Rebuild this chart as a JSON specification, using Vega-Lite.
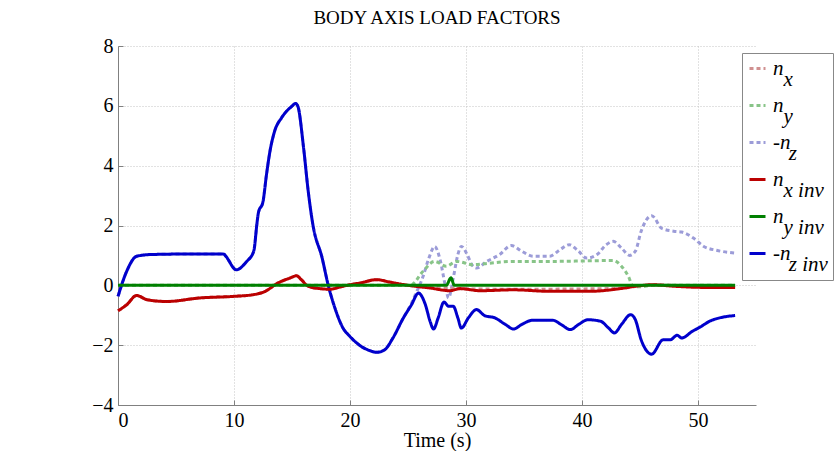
{
  "$schema": "https://vega.github.io/schema/vega-lite/v6.json",
  "width": 638,
  "height": 359,
  "autosize": "none",
  "padding": {"left": 118, "top": 46, "right": 79, "bottom": 46},
  "background": "white",
  "title": {"text": "BODY AXIS LOAD FACTORS", "font": "Liberation Serif", "fontSize": 19, "fontWeight": "normal", "color": "black", "anchor": "middle", "offset": 8},
  "datasets": {
    "d": [
      {"s":"-nz_inv","t":0,"v":-0.37},{"s":"-nz_inv","t":0.75,"v":0.47},{"s":"-nz_inv","t":1.6,"v":0.97},{"s":"-nz_inv","t":2.8,"v":1.03},{"s":"-nz_inv","t":7.1,"v":1.05},{"s":"-nz_inv","t":9.1,"v":1.05},{"s":"-nz_inv","t":9.3,"v":0.97},{"s":"-nz_inv","t":10.2,"v":0.52},{"s":"-nz_inv","t":11.1,"v":0.8},{"s":"-nz_inv","t":11.7,"v":1.14},{"s":"-nz_inv","t":12.0,"v":2.14},{"s":"-nz_inv","t":12.1,"v":2.42},{"s":"-nz_inv","t":12.5,"v":2.8},{"s":"-nz_inv","t":12.8,"v":3.7},{"s":"-nz_inv","t":13.1,"v":4.48},{"s":"-nz_inv","t":13.5,"v":5.15},{"s":"-nz_inv","t":14.1,"v":5.6},{"s":"-nz_inv","t":15.0,"v":5.99},{"s":"-nz_inv","t":15.3,"v":6.08},{"s":"-nz_inv","t":15.5,"v":5.99},{"s":"-nz_inv","t":16.0,"v":4.59},{"s":"-nz_inv","t":16.4,"v":3.14},{"s":"-nz_inv","t":16.8,"v":2.03},{"s":"-nz_inv","t":17.6,"v":0.91},{"s":"-nz_inv","t":18.1,"v":0.04},{"s":"-nz_inv","t":18.7,"v":-0.76},{"s":"-nz_inv","t":19.4,"v":-1.43},{"s":"-nz_inv","t":20.0,"v":-1.71},{"s":"-nz_inv","t":21.0,"v":-2.05},{"s":"-nz_inv","t":21.7,"v":-2.18},{"s":"-nz_inv","t":22.3,"v":-2.24},{"s":"-nz_inv","t":23.0,"v":-2.15},{"s":"-nz_inv","t":23.7,"v":-1.76},{"s":"-nz_inv","t":24.6,"v":-1.09},{"s":"-nz_inv","t":25.3,"v":-0.65},{"s":"-nz_inv","t":25.9,"v":-0.26},{"s":"-nz_inv","t":26.5,"v":-0.65},{"s":"-nz_inv","t":26.9,"v":-1.2},{"s":"-nz_inv","t":27.2,"v":-1.46},{"s":"-nz_inv","t":27.6,"v":-1.09},{"s":"-nz_inv","t":28.1,"v":-0.56},{"s":"-nz_inv","t":28.5,"v":-0.7},{"s":"-nz_inv","t":28.9,"v":-0.7},{"s":"-nz_inv","t":29.3,"v":-1.09},{"s":"-nz_inv","t":29.6,"v":-1.43},{"s":"-nz_inv","t":30.2,"v":-1.09},{"s":"-nz_inv","t":30.9,"v":-0.81},{"s":"-nz_inv","t":31.6,"v":-1.01},{"s":"-nz_inv","t":32.5,"v":-1.09},{"s":"-nz_inv","t":33.4,"v":-1.31},{"s":"-nz_inv","t":34.1,"v":-1.46},{"s":"-nz_inv","t":34.8,"v":-1.31},{"s":"-nz_inv","t":35.7,"v":-1.17},{"s":"-nz_inv","t":37.5,"v":-1.17},{"s":"-nz_inv","t":38.2,"v":-1.31},{"s":"-nz_inv","t":39.0,"v":-1.48},{"s":"-nz_inv","t":39.7,"v":-1.31},{"s":"-nz_inv","t":40.5,"v":-1.15},{"s":"-nz_inv","t":41.6,"v":-1.2},{"s":"-nz_inv","t":42.3,"v":-1.43},{"s":"-nz_inv","t":42.8,"v":-1.59},{"s":"-nz_inv","t":43.4,"v":-1.31},{"s":"-nz_inv","t":44.2,"v":-0.98},{"s":"-nz_inv","t":44.6,"v":-1.15},{"s":"-nz_inv","t":45.1,"v":-1.82},{"s":"-nz_inv","t":46.0,"v":-2.3},{"s":"-nz_inv","t":47.0,"v":-1.82},{"s":"-nz_inv","t":47.6,"v":-1.82},{"s":"-nz_inv","t":48.2,"v":-1.67},{"s":"-nz_inv","t":48.6,"v":-1.76},{"s":"-nz_inv","t":49.5,"v":-1.54},{"s":"-nz_inv","t":50.2,"v":-1.39},{"s":"-nz_inv","t":51.0,"v":-1.2},{"s":"-nz_inv","t":52.2,"v":-1.06},{"s":"-nz_inv","t":53.2,"v":-1.01},

      {"s":"-nz","t":0,"v":-0.37},{"s":"-nz","t":0.75,"v":0.47},{"s":"-nz","t":1.6,"v":0.97},{"s":"-nz","t":2.8,"v":1.03},{"s":"-nz","t":7.1,"v":1.05},{"s":"-nz","t":9.1,"v":1.05},{"s":"-nz","t":9.3,"v":0.97},{"s":"-nz","t":10.2,"v":0.52},{"s":"-nz","t":11.1,"v":0.8},{"s":"-nz","t":11.7,"v":1.14},{"s":"-nz","t":12.0,"v":2.14},{"s":"-nz","t":12.1,"v":2.42},{"s":"-nz","t":12.5,"v":2.8},{"s":"-nz","t":12.8,"v":3.7},{"s":"-nz","t":13.1,"v":4.48},{"s":"-nz","t":13.5,"v":5.15},{"s":"-nz","t":14.1,"v":5.6},{"s":"-nz","t":15.0,"v":5.99},{"s":"-nz","t":15.3,"v":6.08},{"s":"-nz","t":15.5,"v":5.99},{"s":"-nz","t":16.0,"v":4.59},{"s":"-nz","t":16.4,"v":3.14},{"s":"-nz","t":16.8,"v":2.03},{"s":"-nz","t":17.6,"v":0.91},{"s":"-nz","t":18.1,"v":0.04},{"s":"-nz","t":18.7,"v":-0.76},{"s":"-nz","t":19.4,"v":-1.43},{"s":"-nz","t":20.0,"v":-1.71},{"s":"-nz","t":21.0,"v":-2.05},{"s":"-nz","t":21.7,"v":-2.18},{"s":"-nz","t":22.3,"v":-2.24},{"s":"-nz","t":23.0,"v":-2.15},{"s":"-nz","t":23.7,"v":-1.76},{"s":"-nz","t":24.6,"v":-1.09},{"s":"-nz","t":25.3,"v":-0.6},{"s":"-nz","t":25.7,"v":-0.25},{"s":"-nz","t":26.0,"v":0.0},{"s":"-nz","t":26.3,"v":0.3},{"s":"-nz","t":26.8,"v":0.91},{"s":"-nz","t":27.3,"v":1.3},{"s":"-nz","t":27.8,"v":0.8},{"s":"-nz","t":28.2,"v":0.02},{"s":"-nz","t":28.5,"v":-0.42},{"s":"-nz","t":28.9,"v":0.24},{"s":"-nz","t":29.3,"v":1.03},{"s":"-nz","t":29.6,"v":1.3},{"s":"-nz","t":30.1,"v":1.03},{"s":"-nz","t":30.5,"v":0.69},{"s":"-nz","t":30.9,"v":0.58},{"s":"-nz","t":31.8,"v":0.8},{"s":"-nz","t":32.9,"v":1.03},{"s":"-nz","t":33.9,"v":1.33},{"s":"-nz","t":34.8,"v":1.14},{"s":"-nz","t":35.8,"v":0.97},{"s":"-nz","t":37.2,"v":0.97},{"s":"-nz","t":38.1,"v":1.19},{"s":"-nz","t":38.9,"v":1.36},{"s":"-nz","t":39.7,"v":1.14},{"s":"-nz","t":40.4,"v":0.91},{"s":"-nz","t":41.3,"v":1.03},{"s":"-nz","t":42.1,"v":1.36},{"s":"-nz","t":42.7,"v":1.47},{"s":"-nz","t":43.4,"v":1.25},{"s":"-nz","t":44.1,"v":1.0},{"s":"-nz","t":44.6,"v":1.14},{"s":"-nz","t":45.1,"v":1.81},{"s":"-nz","t":46.0,"v":2.33},{"s":"-nz","t":46.9,"v":1.9},{"s":"-nz","t":47.9,"v":1.81},{"s":"-nz","t":48.6,"v":1.78},{"s":"-nz","t":49.6,"v":1.58},{"s":"-nz","t":50.5,"v":1.3},{"s":"-nz","t":51.6,"v":1.17},{"s":"-nz","t":53.2,"v":1.08},

      {"s":"nx_inv","t":0,"v":-0.85},{"s":"nx_inv","t":0.75,"v":-0.65},{"s":"nx_inv","t":1.6,"v":-0.34},{"s":"nx_inv","t":2.5,"v":-0.48},{"s":"nx_inv","t":4.2,"v":-0.54},{"s":"nx_inv","t":7.1,"v":-0.42},{"s":"nx_inv","t":9.9,"v":-0.37},{"s":"nx_inv","t":11.7,"v":-0.31},{"s":"nx_inv","t":12.7,"v":-0.2},{"s":"nx_inv","t":13.7,"v":0.06},{"s":"nx_inv","t":14.8,"v":0.24},{"s":"nx_inv","t":15.4,"v":0.32},{"s":"nx_inv","t":15.8,"v":0.19},{"s":"nx_inv","t":16.4,"v":-0.03},{"s":"nx_inv","t":17.4,"v":-0.11},{"s":"nx_inv","t":18.3,"v":-0.13},{"s":"nx_inv","t":19.1,"v":-0.06},{"s":"nx_inv","t":20.0,"v":0.02},{"s":"nx_inv","t":20.9,"v":0.08},{"s":"nx_inv","t":22.3,"v":0.19},{"s":"nx_inv","t":23.4,"v":0.11},{"s":"nx_inv","t":25.2,"v":-0.01},{"s":"nx_inv","t":26.9,"v":-0.09},{"s":"nx_inv","t":28.6,"v":-0.18},{"s":"nx_inv","t":29.5,"v":-0.11},{"s":"nx_inv","t":31.2,"v":-0.18},{"s":"nx_inv","t":34.1,"v":-0.15},{"s":"nx_inv","t":37.2,"v":-0.2},{"s":"nx_inv","t":40.7,"v":-0.2},{"s":"nx_inv","t":43.3,"v":-0.11},{"s":"nx_inv","t":45.0,"v":-0.01},{"s":"nx_inv","t":46.1,"v":0.02},{"s":"nx_inv","t":47.9,"v":-0.03},{"s":"nx_inv","t":50.7,"v":-0.07},{"s":"nx_inv","t":53.2,"v":-0.07},

      {"s":"nx","t":0,"v":-0.85},{"s":"nx","t":0.75,"v":-0.65},{"s":"nx","t":1.6,"v":-0.34},{"s":"nx","t":2.5,"v":-0.48},{"s":"nx","t":4.2,"v":-0.54},{"s":"nx","t":7.1,"v":-0.42},{"s":"nx","t":9.9,"v":-0.37},{"s":"nx","t":11.7,"v":-0.31},{"s":"nx","t":12.7,"v":-0.2},{"s":"nx","t":13.7,"v":0.06},{"s":"nx","t":14.8,"v":0.24},{"s":"nx","t":15.4,"v":0.32},{"s":"nx","t":15.8,"v":0.19},{"s":"nx","t":16.4,"v":-0.03},{"s":"nx","t":17.4,"v":-0.11},{"s":"nx","t":18.3,"v":-0.13},{"s":"nx","t":19.1,"v":-0.06},{"s":"nx","t":20.0,"v":0.02},{"s":"nx","t":20.9,"v":0.08},{"s":"nx","t":22.3,"v":0.19},{"s":"nx","t":23.4,"v":0.11},{"s":"nx","t":25.2,"v":-0.01},{"s":"nx","t":26.9,"v":-0.05},{"s":"nx","t":28.6,"v":-0.1},{"s":"nx","t":30.0,"v":-0.12},{"s":"nx","t":35.0,"v":-0.13},{"s":"nx","t":40.0,"v":-0.12},{"s":"nx","t":43.3,"v":-0.1},{"s":"nx","t":45.0,"v":-0.02},{"s":"nx","t":46.1,"v":0.02},{"s":"nx","t":50.0,"v":-0.03},{"s":"nx","t":53.2,"v":-0.05},

      {"s":"ny_inv","t":0,"v":0},{"s":"ny_inv","t":28.3,"v":0},{"s":"ny_inv","t":28.7,"v":0.25},{"s":"ny_inv","t":29.0,"v":0},{"s":"ny_inv","t":53.2,"v":0},

      {"s":"ny","t":0,"v":0},{"s":"ny","t":25.2,"v":0},{"s":"ny","t":26.3,"v":0.47},{"s":"ny","t":27.3,"v":0.8},{"s":"ny","t":28.3,"v":0.64},{"s":"ny","t":29.2,"v":0.8},{"s":"ny","t":30.6,"v":0.69},{"s":"ny","t":32.0,"v":0.74},{"s":"ny","t":34.1,"v":0.8},{"s":"ny","t":37.4,"v":0.8},{"s":"ny","t":42.7,"v":0.83},{"s":"ny","t":43.4,"v":0.64},{"s":"ny","t":44.0,"v":0.3},{"s":"ny","t":44.4,"v":-0.03},{"s":"ny","t":45.0,"v":-0.05},{"s":"ny","t":46.1,"v":0},{"s":"ny","t":53.2,"v":0}
    ]
  },
  "data": {"name": "d"},
  "encoding": {
    "x": {"field": "t", "type": "quantitative", "scale": {"domain": [0, 55], "nice": false, "zero": false}, "axis": {"values": [0, 10, 20, 30, 40, 50], "title": "Time (s)"}},
    "y": {"field": "v", "type": "quantitative", "scale": {"domain": [-4, 8], "nice": false}, "axis": {"values": [-4, -2, 0, 2, 4, 6, 8], "title": null}},
    "color": {"field": "s", "type": "nominal",
      "scale": {"domain": ["nx", "ny", "-nz", "nx_inv", "ny_inv", "-nz_inv"], "range": ["#d09090", "#88c488", "#9c9cd8", "#bb0000", "#008000", "#0000cc"]},
      "legend": {"title": null, "labelExpr": "datum.label == 'nx' ? ['n', '\u200b\u00a0\u00a0x'] : datum.label == 'ny' ? ['n', '\u200b\u00a0\u00a0y'] : datum.label == '-nz' ? ['-n', '\u200b\u00a0\u00a0\u00a0z'] : datum.label == 'nx_inv' ? ['n', '\u200b\u00a0\u00a0x inv'] : datum.label == 'ny_inv' ? ['n', '\u200b\u00a0\u00a0y inv'] : ['-n', '\u200b\u00a0\u00a0\u00a0z inv']"}},
    "strokeDash": {"field": "s", "type": "nominal",
      "scale": {"domain": ["nx", "ny", "-nz", "nx_inv", "ny_inv", "-nz_inv"], "range": [[4, 3], [4, 3], [4, 3], [1, 0], [1, 0], [1, 0]]},
      "legend": {"title": null, "labelExpr": "datum.label == 'nx' ? ['n', '\u200b\u00a0\u00a0x'] : datum.label == 'ny' ? ['n', '\u200b\u00a0\u00a0y'] : datum.label == '-nz' ? ['-n', '\u200b\u00a0\u00a0\u00a0z'] : datum.label == 'nx_inv' ? ['n', '\u200b\u00a0\u00a0x inv'] : datum.label == 'ny_inv' ? ['n', '\u200b\u00a0\u00a0y inv'] : ['-n', '\u200b\u00a0\u00a0\u00a0z inv']"}},
    "strokeWidth": {"field": "s", "type": "nominal",
      "scale": {"domain": ["nx", "ny", "-nz", "nx_inv", "ny_inv", "-nz_inv"], "range": [3, 3, 3, 1.8, 1.8, 1.8]},
      "legend": {"title": null, "labelExpr": "datum.label == 'nx' ? ['n', '\u200b\u00a0\u00a0x'] : datum.label == 'ny' ? ['n', '\u200b\u00a0\u00a0y'] : datum.label == '-nz' ? ['-n', '\u200b\u00a0\u00a0\u00a0z'] : datum.label == 'nx_inv' ? ['n', '\u200b\u00a0\u00a0x inv'] : datum.label == 'ny_inv' ? ['n', '\u200b\u00a0\u00a0y inv'] : ['-n', '\u200b\u00a0\u00a0\u00a0z inv']"}}
  },
  "layer": [
    {"transform": [{"filter": "indexof(['nx','ny','-nz'], datum.s) >= 0"}], "mark": {"type": "line", "interpolate": "monotone"}},
    {"transform": [{"filter": "indexof(['nx_inv','ny_inv','-nz_inv'], datum.s) >= 0"}], "mark": {"type": "line", "interpolate": "monotone"}}
  ],
  "config": {
    "view": {"stroke": null},
    "style": {"guide-label": {"lineHeight": 11, "fontSize": 21, "font": "Liberation Serif", "fontStyle": "italic", "fill": "black"}},
    "axis": {
      "domainColor": "#808080", "domainWidth": 1, "tickColor": "#808080", "tickSize": -5, "tickWidth": 1,
      "gridColor": "#c4c4c4", "gridDash": [1, 2], "gridWidth": 1,
      "labelFont": "Liberation Serif", "labelFontSize": 20, "labelFontStyle": "normal", "labelColor": "black", "labelPadding": 10,
      "titleFont": "Liberation Serif", "titleFontSize": 20, "titleFontWeight": "normal", "titleColor": "black", "titlePadding": 0
    },
    "legend": {
      "orient": "none", "legendX": 624, "legendY": 7, "fillColor": "white", "strokeColor": "#888888",
      "padding": 5, "symbolType": "stroke", "symbolSize": 256, "labelOffset": 5,
      "labelFont": "Liberation Serif", "labelFontStyle": "italic", "labelFontSize": 21, "labelColor": "black",
      "rowPadding": 4, "labelLimit": 200
    }
  }
}
